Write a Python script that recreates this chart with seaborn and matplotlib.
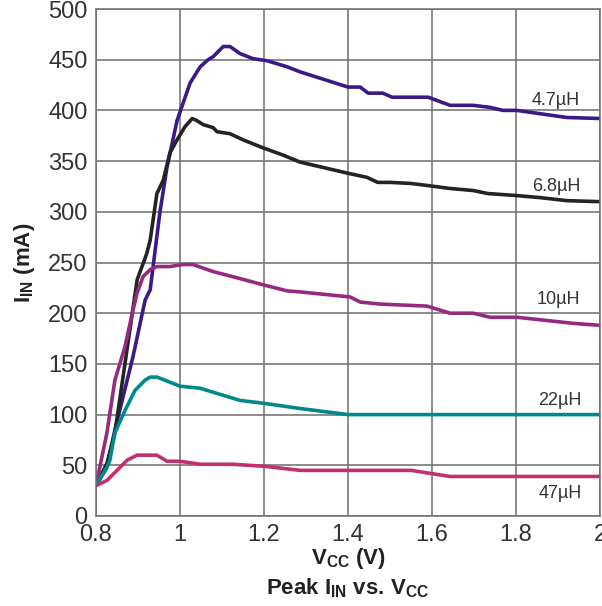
import matplotlib
matplotlib.use("Agg")
import matplotlib.pyplot as plt
import pandas as pd
import seaborn as sns

# values (Vcc in V, Iin in mA)
vcc_47u = [0.80, 0.826, 0.845, 0.888, 0.917, 0.929, 0.952, 0.969, 0.993, 1.024, 1.048, 1.067,
           1.079, 1.103, 1.119, 1.143, 1.174, 1.207, 1.255, 1.286, 1.40, 1.429, 1.448, 1.483,
           1.505, 1.548, 1.591, 1.643, 1.698, 1.738, 1.769, 1.802, 1.921, 2.0]
iin_47u = [30, 48, 85, 157, 213, 223, 299, 344, 390, 427, 443, 450,
           453, 463, 463, 456, 451, 449, 443, 438, 423, 423, 417, 417,
           413, 413, 413, 405, 405, 403, 400, 400, 393, 392]

vcc_68u = [0.80, 0.826, 0.845, 0.898, 0.921, 0.929, 0.945, 0.960, 0.976, 0.993, 1.012, 1.029,
           1.040, 1.055, 1.079, 1.088, 1.119, 1.150, 1.198, 1.245, 1.286, 1.40, 1.445, 1.471,
           1.50, 1.548, 1.588, 1.643, 1.698, 1.733, 1.802, 1.857, 1.921, 2.0]
iin_68u = [30, 52, 82, 233, 259, 272, 318, 331, 358, 371, 384, 392,
           390, 386, 383, 379, 377, 371, 363, 356, 349, 338, 334, 329,
           329, 328, 326, 323, 321, 318, 316, 314, 311, 310]

vcc_10u = [0.80, 0.826, 0.845, 0.869, 0.888, 0.898, 0.912, 0.929, 0.945, 0.976, 1.007, 1.031,
           1.079, 1.126, 1.198, 1.255, 1.286, 1.405, 1.429, 1.476, 1.588, 1.643, 1.698, 1.738,
           1.802, 1.936, 2.0]
iin_10u = [30, 82, 134, 167, 203, 220, 236, 243, 246, 246, 248, 248,
           241, 236, 228, 222, 221, 216, 211, 209, 207, 200, 200, 196,
           196, 190, 188]

vcc_22u = [0.80, 0.826, 0.833, 0.845, 0.869, 0.893, 0.917, 0.929, 0.945, 0.976, 1.0, 1.048,
           1.103, 1.143, 1.202, 1.286, 1.40, 1.6, 1.8, 2.0]
iin_22u = [30, 48, 55, 82, 104, 124, 134, 137, 137, 132, 128, 126,
           119, 114, 111, 106, 100, 100, 100, 100]

vcc_470u = [0.80, 0.826, 0.850, 0.874, 0.898, 0.945, 0.969, 1.0, 1.048, 1.126, 1.202, 1.286,
            1.40, 1.55, 1.643, 1.8, 2.0]
iin_470u = [30, 35, 45, 55, 60, 60, 54, 54, 51, 51, 49, 45,
            45, 45, 39, 39, 39]

inductors = ["4.7µH", "6.8µH", "10µH", "22µH", "47µH"]
colors = ["#3b1a88", "#222426", "#962a80", "#00898a", "#c2306e"]
label_pos = [(1.895, 410), (1.895, 325), (1.900, 214), (1.905, 114), (1.905, 22)]

series = [(vcc_47u, iin_47u), (vcc_68u, iin_68u), (vcc_10u, iin_10u),
          (vcc_22u, iin_22u), (vcc_470u, iin_470u)]
frames = []
for name, (x, y) in zip(inductors, series):
    frames.append(pd.DataFrame({"Vcc": x, "Iin": y, "L": name}))
df = pd.concat(frames, ignore_index=True)

sns.set_style("white")
plt.rcParams["font.family"] = ["Liberation Sans", "DejaVu Sans"]
plt.rcParams["mathtext.fontset"] = "custom"
plt.rcParams["mathtext.rm"] = "Liberation Sans:bold"
plt.rcParams["mathtext.bf"] = "Liberation Sans:bold"

fig = plt.figure(figsize=(6.02, 6.06), dpi=100)
ax = fig.add_axes([96 / 602, 90 / 606, 504 / 602, 507 / 606])

sns.lineplot(data=df, x="Vcc", y="Iin", hue="L", palette=dict(zip(inductors, colors)),
             sort=False, estimator=None, linewidth=2.6, legend=False, ax=ax)

for name, c, (tx, ty) in zip(inductors, colors, label_pos):
    ax.text(tx, ty, name, fontsize=13, color="#333333", ha="center", va="center")

ax.set_xlim(0.8, 2.0)
ax.set_ylim(0, 500)
ax.set_xticks([0.8, 1.0, 1.2, 1.4, 1.6, 1.8, 2.0])
ax.set_xticklabels(["0.8", "1", "1.2", "1.4", "1.6", "1.8", "2"])
ax.set_yticks(range(0, 501, 50))
ax.grid(True, color="#6e6e6e", linewidth=1.1)
ax.set_axisbelow(True)
for s in ax.spines.values():
    s.set_color("#6e6e6e")
    s.set_linewidth(1.1)
ax.tick_params(axis="both", labelsize=17, colors="#333333", length=0, pad=6)

ax.set_xlabel(r"V$_{\mathbf{CC}}$ (V)" + "\n" + r"Peak I$_{\mathbf{IN}}$ vs. V$_{\mathbf{CC}}$",
              fontsize=16, fontweight="bold", color="#222222", linespacing=1.3, labelpad=0)
ax.set_ylabel(r"I$_{\mathbf{IN}}$ (mA)", fontsize=16, fontweight="bold", color="#222222",
              labelpad=8)

fig.savefig("out.png", dpi=100)
